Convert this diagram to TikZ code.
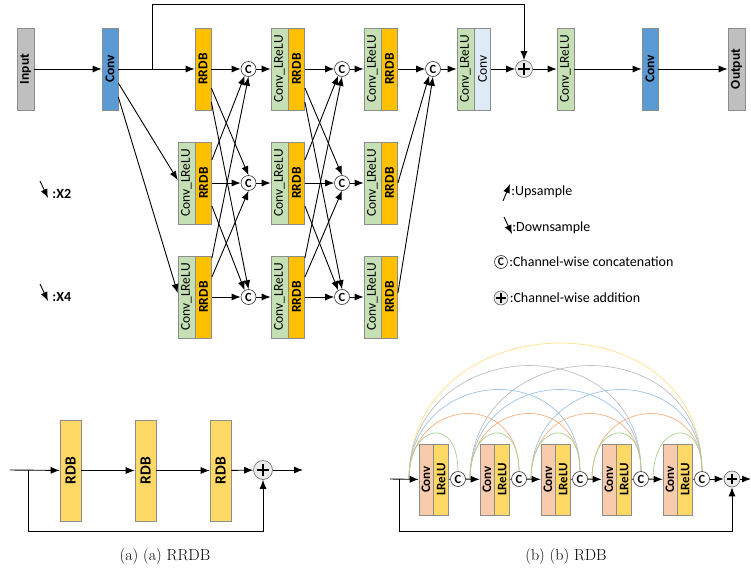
\documentclass[tikz,border=0pt]{standalone}
\usepackage{graphicx}
\usepackage{fontspec}
\newfontfamily\calib{Carlito}
\usetikzlibrary{positioning,arrows.meta,calc,backgrounds}

\definecolor{edgegray}{HTML}{8C8C8C}
\definecolor{inpgray}{HTML}{BFBFBF}
\definecolor{convblue}{HTML}{5B9BD5}
\definecolor{rrdborange}{HTML}{FFC000}
\definecolor{lrelugreen}{HTML}{C5E0B4}
\definecolor{lightblue}{HTML}{DEEBF7}
\definecolor{rdbyellow}{HTML}{FFD966}
\definecolor{convsalmon}{HTML}{F8CBAD}
\definecolor{arcgreen}{HTML}{A9D18E}
\definecolor{arcorange}{HTML}{F4B183}
\definecolor{arcblue}{HTML}{9DC3E6}
\definecolor{arcgray}{HTML}{BFBFBF}
\definecolor{arcyellow}{HTML}{FFE08A}

\newcommand{\vtext}[1]{\rotatebox{90}{#1}}

\tikzset{
  >={Latex[length=9pt,width=7pt]},
  every path/.style={line width=0.9pt},
  blk/.style={draw=edgegray, line width=0.6pt, inner sep=0pt, minimum height=82pt,
    font=\calib\fontsize{13.5}{15}\selectfont},
  graybox/.style={blk, fill=inpgray, minimum width=17pt},
  bluebox/.style={blk, fill=convblue, minimum width=16pt},
  orbox/.style={blk, fill=rrdborange, minimum width=16pt},
  grbox/.style={blk, fill=lrelugreen, minimum width=17pt},
  lbbox/.style={blk, fill=lightblue, minimum width=16pt},
  rdbbox/.style={blk, fill=rdbyellow, minimum width=21pt, minimum height=101pt,
    font=\calib\bfseries\fontsize{15.5}{17}\selectfont},
  cvbox/.style={blk, fill=convsalmon, minimum width=14pt, minimum height=71pt,
    font=\calib\bfseries\fontsize{13}{14}\selectfont},
  lrbox/.style={blk, fill=rdbyellow, minimum width=15pt, minimum height=71pt,
    font=\calib\bfseries\fontsize{13}{14}\selectfont},
  cat/.style={circle, draw=black!80, fill=white, line width=0.6pt, inner sep=0pt,
    minimum size=15pt, font=\calib\bfseries\fontsize{12.5}{13}\selectfont},
  addnode/.style={circle, draw=black!60, fill=black!8, line width=0.6pt, inner sep=0pt,
    minimum size=16pt,
    path picture={
      \draw[black, line width=2.2pt]
        ($(path picture bounding box.center)+(-0.34*\pgfkeysvalueof{/pgf/minimum width},0)$) --
        ($(path picture bounding box.center)+(0.34*\pgfkeysvalueof{/pgf/minimum width},0)$);
      \draw[black, line width=2.2pt]
        ($(path picture bounding box.center)+(0,-0.34*\pgfkeysvalueof{/pgf/minimum width})$) --
        ($(path picture bounding box.center)+(0,0.34*\pgfkeysvalueof{/pgf/minimum width})$);
    }},
  legtext/.style={anchor=west, inner sep=1pt, font=\calib\fontsize{14}{15}\selectfont},
  arcline/.style={line width=0.7pt}
}

\begin{document}
\begin{tikzpicture}[x=1pt,y=-1pt]
\useasboundingbox (0,0) rectangle (751,578);

% Linha principal
\node[graybox] (inp) at (25.5,69) {\vtext{\bfseries Input}};
\node[bluebox] (conv1) at (110,69) {\vtext{\bfseries Conv}};
\node[orbox] (o11) at (203,69) {\vtext{\bfseries RRDB}};
\node[grbox] (g21) at (186.5,183) {\vtext{Conv\_LReLU}};
\node[orbox, right=0pt of g21] (o21) {\vtext{\bfseries RRDB}};
\node[grbox] (g31) at (186.5,297) {\vtext{Conv\_LReLU}};
\node[orbox, right=0pt of g31] (o31) {\vtext{\bfseries RRDB}};
\foreach \r/\y in {1/69,2/183,3/297}{
  \foreach \c/\x in {2/279.5,3/372.5}{
    \node[grbox] (g\r\c) at (\x,\y) {\vtext{Conv\_LReLU}};
    \node[orbox, right=0pt of g\r\c] (o\r\c) {\vtext{\bfseries RRDB}};
  }
  \node[cat] (c\r1) at (248.5,\y) {C};
  \node[cat] (c\r2) at (342,\y) {C};
}
\node[cat] (c13) at (433,69) {C};
\node[grbox] (g14) at (465.5,69) {\vtext{Conv\_LReLU}};
\node[lbbox, right=0pt of g14] (lb14) {\vtext{Conv}};
\node[addnode, minimum size=17pt] (add1) at (524,69) {};
\node[grbox] (g15) at (565.5,69) {\vtext{Conv\_LReLU}};
\node[bluebox] (conv2) at (650,69) {\vtext{\bfseries Conv}};
\node[graybox] (outp) at (736.5,69) {\vtext{\bfseries Output}};
\coordinate (sk) at (152,69);

% Conexoes horizontais
\draw[->] (inp) -- (conv1);
\draw[->] (conv1) -- (o11);
\foreach \r in {1,2,3}{
  \draw[->] (o\r1) -- (c\r1);
  \draw[->] (c\r1) -- (g\r2);
  \draw[->] (o\r2) -- (c\r2);
  \draw[->] (c\r2) -- (g\r3);
}
\draw[->] (o13) -- (c13);
\draw[->] (c13) -- (g14);
\draw[->] (lb14) -- (add1);
\draw[->] (add1) -- (g15);
\draw[->] (g15) -- (conv2);
\draw[->] (conv2) -- (outp);
\draw[->] (sk) -- ++(0,-65) -| (add1.north);

% Downsample a partir da Conv
\draw[->] ($(conv1.east)+(0,14)$) -- ($(g21.west)+(0,-3)$);
\draw[->] ($(conv1.east)+(0,28)$) -- ($(g31.west)+(0,-4)$);

% Conexoes cruzadas
\foreach \c in {1,2}{
  \draw[->] ($(o1\c.east)+(0,19)$) -- (c2\c.north);
  \draw[->] ($(o1\c.east)+(0,33)$) -- (c3\c.north);
  \draw[->] ($(o2\c.east)+(0,-23)$) -- (c1\c.240);
  \draw[->] ($(o2\c.east)+(0,23)$) -- (c3\c.120);
  \draw[->] ($(o3\c.east)+(0,-39)$) -- (c1\c.south);
  \draw[->] ($(o3\c.east)+(0,-20)$) -- (c2\c.south);
}
\draw[->] (o23.east) -- (c13.240);
\draw[->] ($(o33.east)+(0,-4)$) -- (c13.south);

% Legendas
\coordinate (x2a) at (40,181); \coordinate (x2b) at (48,198);
\draw[->] (x2a) -- (x2b);
\node[legtext, font=\calib\bfseries\fontsize{14}{15}\selectfont] (lx2) at (51,194) {:X2};
\coordinate (x4a) at (40,284); \coordinate (x4b) at (48,301);
\draw[->] (x4a) -- (x4b);
\node[legtext, font=\calib\bfseries\fontsize{14}{15}\selectfont] (lx4) at (51,297) {:X4};

\coordinate (upa) at (503,201); \coordinate (upb) at (510,184);
\draw[->] (upa) -- (upb);
\node[legtext] (lup) at (510,192) {:Upsample};
\coordinate (dna) at (504,217); \coordinate (dnb) at (512,234);
\draw[->] (dna) -- (dnb);
\node[legtext] (ldn) at (511,228) {:Downsample};
\node[cat, minimum size=13pt, font=\calib\bfseries\fontsize{11.5}{12}\selectfont] (lcat) at (501,262) {C};
\node[legtext, right=0pt of lcat] (lcatt) {:Channel-wise concatenation};
\node[addnode, minimum size=14pt] (ladd) at (501,298) {};
\node[legtext, right=0pt of ladd] (laddt) {:Channel-wise addition};

% (a) RRDB
\coordinate (ain) at (10,470);
\coordinate (askip) at (28,470);
\node[rdbbox] (rdb1) at (70.5,470.5) {\vtext{RDB}};
\node[rdbbox] (rdb2) at (145.5,470.5) {\vtext{RDB}};
\node[rdbbox] (rdb3) at (220.5,470.5) {\vtext{RDB}};
\node[addnode, minimum size=19pt] (add2) at (263,470) {};
\coordinate (aout) at (303,470);
\draw[->] (ain) -- (rdb1);
\draw[->] (rdb1) -- (rdb2);
\draw[->] (rdb2) -- (rdb3);
\draw[->] (rdb3) -- (add2);
\draw[->] (add2) -- (aout);
\draw[->] (askip) -- ++(0,61) -| (add2.south);

% (b) RDB
\coordinate (bin) at (390,479);
\coordinate (bskip) at (399,479);
\foreach \k in {1,...,5}{
  \node[cvbox] (cv\k) at (426+61*\k-61,479.5) {\vtext{Conv}};
  \node[lrbox, right=0pt of cv\k] (lr\k) {\vtext{LReLU}};
  \node[cat] (dc\k) at (458+61*\k-61,479) {C};
  \draw (lr\k) -- (dc\k);
}
\foreach \k in {0,...,4}{
  \coordinate (pt\k) at (409+61*\k,479);
}
\draw[->] (bin) -- (cv1);
\foreach \k/\n in {1/2,2/3,3/4,4/5}{
  \draw[->] (dc\k) -- (cv\n);
}
\node[addnode, minimum size=16pt] (add3) at (732,479) {};
\coordinate (bout) at (751,479);
\draw[->] (dc5) -- (add3);
\draw[->] (add3) -- (bout);
\draw[->] (bskip) -- ++(0,52) -| (add3.south);

% Arcos densos
\begin{scope}[on background layer]
\foreach \d/\off/\col in {5/176/arcyellow,4/146/arcgray,3/114/arcblue,2/82/arcorange,1/56/arcgreen}{
  \foreach \k in {0,...,4}{
    \pgfmathtruncatemacro\j{\k+\d}
    \ifnum\j<6
      \draw[arcline, \col] (pt\k) .. controls +(0,-\off) and +(0,-\off) .. (dc\j.north);
    \fi
  }
}
\end{scope}

% Legendas das figuras
\node[font=\fontsize{16}{19}\selectfont] (capa) at (165,556) {(a) (a) RRDB};
\node[font=\fontsize{16}{19}\selectfont] (capb) at (566,556) {(b) (b) RDB};
\end{tikzpicture}
\end{document}
